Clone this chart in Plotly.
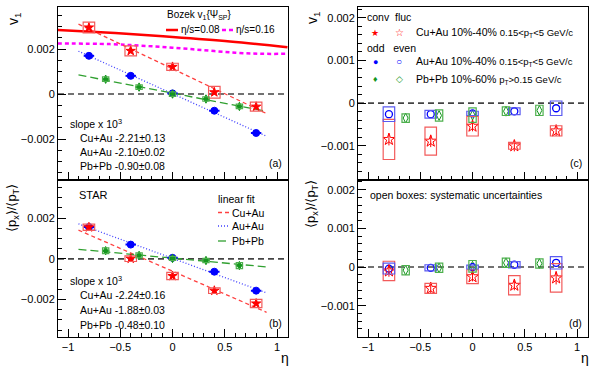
import numpy as np
import plotly.graph_objects as go

W, H = 600, 376
FONT = "Liberation Sans, Arial, sans-serif"

# ---------------- data ----------------
eta_cuau = [-0.8, -0.4, 0.0, 0.4, 0.8]
eta_auau = [-0.8, -0.4, 0.0, 0.4, 0.8]
eta_pbpb = [-0.64, -0.32, 0.0, 0.32, 0.64]

# panel (a): v1 conventional (Cu+Au) / odd (Au+Au, Pb+Pb)
v1_cuau_conv = [0.00296, 0.00192, 0.00121, 0.00008, -0.00056]
v1_cuau_conv_stat = [0.00012, 0.00010, 0.00008, 0.00012, 0.00010]
v1_cuau_conv_sys = [0.00024, 0.00022, 0.00016, 0.00026, 0.00020]
v1_auau_odd = [0.00170, 0.00081, 0.00003, -0.00074, -0.00173]
v1_auau_odd_sys = [0.00003, 0.00003, 0.00003, 0.00003, 0.00003]
v1_pbpb_odd = [0.00066, 0.00031, 0.00000, -0.00022, -0.00055]
v1_pbpb_odd_stat = [0.00008, 0.00008, 0.00008, 0.00008, 0.00008]
v1_pbpb_odd_sys = [0.00010, 0.00010, 0.00010, 0.00010, 0.00010]
slope_a = {"cuau": -0.00221, "auau": -0.00210, "pbpb": -0.00090}

# Bozek hydro curves
eta_bozek_08 = [-1.1, -0.55, 0.0, 0.55, 1.1]
v1_bozek_08 = [0.00285, 0.00271, 0.00254, 0.00234, 0.00208]
eta_bozek_16 = [-1.1, -0.6, -0.3, 0.0, 0.3, 0.6, 0.85, 1.1]
v1_bozek_16 = [0.00225, 0.00222, 0.00215, 0.00206, 0.00195, 0.00184, 0.00179, 0.00179]

# panel (b): <px>/<pT> conventional / odd
px_cuau_conv = [0.00155, 0.00001, -0.00084, -0.00156, -0.00219]
px_cuau_conv_stat = [0.00010, 0.00009, 0.00010, 0.00010, 0.00011]
px_cuau_conv_sys = [0.00015, 0.00014, 0.00018, 0.00014, 0.00020]
px_auau_odd = [0.00156, 0.00070, 0.00005, -0.00063, -0.00156]
px_auau_odd_sys = [0.00003, 0.00003, 0.00003, 0.00003, 0.00003]
px_pbpb_odd = [0.00040, 0.00017, 0.00002, -0.00008, -0.00033]
px_pbpb_odd_stat = [0.00008, 0.00008, 0.00008, 0.00008, 0.00008]
px_pbpb_odd_sys = [0.00014, 0.00012, 0.00010, 0.00010, 0.00015]
slope_b = {"cuau": -0.00224, "auau": -0.00188, "pbpb": -0.00048}

# panel (c): v1 fluctuation (Cu+Au) / even (Au+Au, Pb+Pb)
v1_cuau_fluc = [-0.00085, -0.00089, -0.00054, -0.00100, -0.00065]
v1_cuau_fluc_stat = [0.00014, 0.00014, 0.00012, 0.00013, 0.00012]
v1_cuau_fluc_sys = [0.00047, 0.00033, 0.00023, 0.00008, 0.00012]
v1_auau_even = [-0.00026, -0.00026, -0.00024, -0.00019, -0.00012]
v1_auau_even_sys = [0.00017, 0.00009, 0.00005, 0.00008, 0.00017]
v1_pbpb_even = [-0.00035, -0.00029, -0.00028, -0.00019, -0.00017]
v1_pbpb_even_sys = [0.00010, 0.00013, 0.00017, 0.00010, 0.00012]

# panel (d): <px>/<pT> fluctuation / even
px_cuau_fluc = [-0.00010, -0.00055, -0.00025, -0.00047, -0.00028]
px_cuau_fluc_stat = [0.00015, 0.00012, 0.00012, 0.00013, 0.00017]
px_cuau_fluc_sys = [0.00025, 0.00013, 0.00018, 0.00025, 0.00037]
px_auau_even = [-0.00004, -0.00002, 0.00000, 0.00006, 0.00011]
px_auau_even_sys = [0.00014, 0.00008, 0.00005, 0.00008, 0.00016]
px_pbpb_even = [-0.00008, -0.00002, 0.00002, 0.00011, 0.00009]
px_pbpb_even_sys = [0.00012, 0.00012, 0.00015, 0.00012, 0.00012]

x_tick_vals = [-1, -0.5, 0, 0.5, 1]
x_tick_text = ["\u22121", "\u22120.5", "0", "0.5", "1"]
y_left_tick_vals = [-0.002, 0, 0.002]
y_left_tick_text = ["\u22120.002", "0", "0.002"]
y_right_tick_vals = [-0.001, 0, 0.001, 0.002]
y_right_tick_text = ["\u22120.001", "0", "0.001", "0.002"]

# ---------------- style ----------------
RED = "#ff0000"
RED_BOX = "#f25a5a"
BLUE = "#0000ff"
BLUE_BOX = "#5a5af0"
GREEN = "#14961e"
GREEN_BOX = "#4db04d"
MAGENTA = "#ff00ff"

fig = go.Figure()

def add_points(xa, ya, x, y, color, symbol, size, ey=None, ex=None, lw=1.0):
    fig.add_trace(go.Scatter(
        x=x, y=y, mode="markers", xaxis=xa, yaxis=ya, showlegend=False,
        marker=dict(color=color, symbol=symbol, size=size,
                    line=dict(color=color, width=lw)),
        error_y=dict(type="data", array=ey, visible=ey is not None,
                     color=color, thickness=1, width=0),
        error_x=dict(type="constant", value=ex if ex else 0, visible=ex is not None,
                     color=color, thickness=2, width=0),
    ))

shapes = []

def add_boxes(xa, ya, x, y, s, hw, color, lw=1.2):
    for xi, yi, si in zip(x, y, s):
        shapes.append(dict(type="rect", xref=xa, yref=ya,
                           x0=xi - hw, x1=xi + hw, y0=yi - si, y1=yi + si,
                           line=dict(color=color, width=lw)))

def add_fit(xa, ya, x, y, slope, color, dash, width=1.3):
    intercept = float(np.mean(y)) - slope * float(np.mean(x))
    fx = np.array([-0.9, 0.9])
    fig.add_trace(go.Scatter(x=fx, y=intercept + slope * fx, mode="lines",
                             xaxis=xa, yaxis=ya, showlegend=False,
                             line=dict(color=color, dash=dash, width=width)))

def zero_line(xa, ya):
    shapes.append(dict(type="line", xref=xa + " domain", yref=ya,
                       x0=0, x1=1, y0=0, y1=0, layer="below",
                       line=dict(color="#444444", width=1.6, dash="6px,4px")))

for xa, ya in [("x", "y"), ("x2", "y2"), ("x3", "y3"), ("x4", "y4")]:
    zero_line(xa, ya)

# panel (a)
fig.add_trace(go.Scatter(x=eta_bozek_08, y=v1_bozek_08, mode="lines", xaxis="x", yaxis="y",
                         line=dict(color=RED, width=2.5, shape="spline"), showlegend=False))
fig.add_trace(go.Scatter(x=eta_bozek_16, y=v1_bozek_16, mode="lines", xaxis="x", yaxis="y",
                         line=dict(color=MAGENTA, width=2.5, dash="4px,3px", shape="spline"),
                         showlegend=False))
add_fit("x", "y", eta_cuau, v1_cuau_conv, slope_a["cuau"], "#ff4040", "4px,3px")
add_fit("x", "y", eta_auau, v1_auau_odd, slope_a["auau"], "#4040ff", "1px,2px")
add_fit("x", "y", eta_pbpb, v1_pbpb_odd, slope_a["pbpb"], "#30a030", "8px,4px")
add_boxes("x", "y", eta_cuau, v1_cuau_conv, v1_cuau_conv_sys, 0.055, RED_BOX)
add_boxes("x", "y", eta_pbpb, v1_pbpb_odd, v1_pbpb_odd_sys, 0.03, GREEN_BOX)
add_points("x", "y", eta_auau, v1_auau_odd, BLUE, "circle", 7, ex=0.05)
add_points("x", "y", eta_pbpb, v1_pbpb_odd, GREEN, "diamond-tall", 6, ey=v1_pbpb_odd_stat, ex=0.035)
add_points("x", "y", eta_cuau, v1_cuau_conv, RED, "star", 7, ey=v1_cuau_conv_stat)

# panel (b)
add_fit("x2", "y2", eta_cuau, px_cuau_conv, slope_b["cuau"], "#ff4040", "4px,3px")
add_fit("x2", "y2", eta_auau, px_auau_odd, slope_b["auau"], "#4040ff", "1px,2px")
add_fit("x2", "y2", eta_pbpb, px_pbpb_odd, slope_b["pbpb"], "#30a030", "8px,4px")
add_boxes("x2", "y2", eta_cuau, px_cuau_conv, px_cuau_conv_sys, 0.055, RED_BOX)
add_boxes("x2", "y2", eta_pbpb, px_pbpb_odd, px_pbpb_odd_sys, 0.03, GREEN_BOX)
add_points("x2", "y2", eta_auau, px_auau_odd, BLUE, "circle", 7, ex=0.05)
add_points("x2", "y2", eta_pbpb, px_pbpb_odd, GREEN, "diamond-tall", 6, ey=px_pbpb_odd_stat, ex=0.035)
add_points("x2", "y2", eta_cuau, px_cuau_conv, RED, "star", 7, ey=px_cuau_conv_stat)

# panel (c)
add_boxes("x3", "y3", eta_cuau, v1_cuau_fluc, v1_cuau_fluc_sys, 0.055, RED_BOX)
add_boxes("x3", "y3", eta_auau, v1_auau_even, v1_auau_even_sys, 0.055, BLUE_BOX)
add_boxes("x3", "y3", eta_pbpb, v1_pbpb_even, v1_pbpb_even_sys, 0.035, GREEN_BOX)
add_points("x3", "y3", eta_pbpb, v1_pbpb_even, GREEN, "diamond-tall-open", 7)
add_points("x3", "y3", eta_auau, v1_auau_even, BLUE, "circle-open", 7, lw=1.3)
add_points("x3", "y3", eta_cuau, v1_cuau_fluc, RED, "star-open", 9, ey=v1_cuau_fluc_stat)

# panel (d)
add_boxes("x4", "y4", eta_cuau, px_cuau_fluc, px_cuau_fluc_sys, 0.055, RED_BOX)
add_boxes("x4", "y4", eta_auau, px_auau_even, px_auau_even_sys, 0.055, BLUE_BOX)
add_boxes("x4", "y4", eta_pbpb, px_pbpb_even, px_pbpb_even_sys, 0.035, GREEN_BOX)
add_points("x4", "y4", eta_pbpb, px_pbpb_even, GREEN, "diamond-tall-open", 7)
add_points("x4", "y4", eta_auau, px_auau_even, BLUE, "circle-open", 7, lw=1.3)
add_points("x4", "y4", eta_cuau, px_cuau_fluc, RED, "star-open", 9, ey=px_cuau_fluc_stat)

# ---------------- axes ----------------
LX = [58 / W, 288 / W]
RX = [358 / W, 588 / W]
TY = [1 - 180 / H, 1 - 7 / H]
BY = [1 - 336.7 / H, 1 - 180 / H]
XR = [-1.096, 1.105]
YL = [-0.00382, 0.00387]
YR = [-0.0018, 0.00225]

def xax(domain, anchor, labels):
    return dict(domain=domain, anchor=anchor, range=XR, showline=True, mirror=True,
                linecolor="black", linewidth=1, ticks="inside", ticklen=8, tickcolor="black",
                tickmode="array", tickvals=x_tick_vals, ticktext=x_tick_text,
                showticklabels=labels, showgrid=False, zeroline=False,
                tickfont=dict(size=11, family=FONT, color="black"),
                minor=dict(tickmode="linear", tick0=0, dtick=0.1, ticks="inside",
                           ticklen=4, tickcolor="black", showgrid=False))

def yax(domain, anchor, rng, tv, tt, minor_dt):
    return dict(domain=domain, anchor=anchor, range=rng, showline=True, mirror=True,
                linecolor="black", linewidth=1, ticks="inside", ticklen=8, tickcolor="black",
                tickmode="array", tickvals=tv, ticktext=tt, showgrid=False, zeroline=False,
                tickfont=dict(size=11, family=FONT, color="black"),
                minor=dict(tickmode="linear", tick0=0, dtick=minor_dt, ticks="inside",
                           ticklen=4, tickcolor="black", showgrid=False))

# ---------------- annotations ----------------
def txt(x, y, s, size=10.5, xanchor="left", yanchor="middle", angle=0, color="black"):
    return dict(x=x / W, y=1 - y / H, xref="paper", yref="paper", text=s, showarrow=False,
                xanchor=xanchor, yanchor=yanchor, textangle=angle,
                font=dict(size=size, family=FONT, color=color), borderpad=0)

ann = []
# axis titles
ann.append(txt(14, 19, "v<sub>1</sub>", 14, "center", "middle", -90))
ann.append(txt(313, 18, "v<sub>1</sub>", 14, "center", "middle", -90))
ann.append(txt(12, 208, "\u27e8p<sub>x</sub>\u27e9/\u27e8p<sub>T</sub>\u27e9", 13, "center", "middle", -90))
ann.append(txt(312, 204, "\u27e8p<sub>x</sub>\u27e9/\u27e8p<sub>T</sub>\u27e9", 13, "center", "middle", -90))
ann.append(txt(285, 358, "\u03b7", 14, "center", "middle"))
ann.append(txt(585, 358, "\u03b7", 14, "center", "middle"))

# panel (a)
ann.append(txt(166, 15.5, "Bozek v<sub>1</sub>{\u03a8<sub>SP</sub>}", 10))
ann.append(txt(180, 30, "\u03b7/s=0.08", 10))
ann.append(txt(235, 30, "\u03b7/s=0.16", 10))
ann.append(txt(69, 124, "slope x 10<sup>3</sup>"))
ann.append(txt(79, 137.5, "Cu+Au -2.21\u00b10.13"))
ann.append(txt(79, 152, "Au+Au -2.10\u00b10.02"))
ann.append(txt(79, 166, "Pb+Pb -0.90\u00b10.08"))
ann.append(txt(283, 163, "(a)", 10.5, "right"))

# panel (b)
ann.append(txt(78, 195, "STAR", 11))
ann.append(txt(217, 198.5, "linear fit"))
ann.append(txt(231, 212.5, "Cu+Au"))
ann.append(txt(231, 226, "Au+Au"))
ann.append(txt(231, 241, "Pb+Pb"))
ann.append(txt(69, 280, "slope x 10<sup>3</sup>"))
ann.append(txt(79, 295, "Cu+Au -2.24\u00b10.16"))
ann.append(txt(79, 310, "Au+Au -1.88\u00b10.03"))
ann.append(txt(79, 325, "Pb+Pb -0.48\u00b10.10"))
ann.append(txt(283, 323, "(b)", 10.5, "right"))

# panel (c) legend
ann.append(txt(366, 17, "conv  fluc"))
ann.append(txt(366, 48, "odd   even"))
ann.append(txt(375, 33, "\u2605", 9, "center", color=RED))
ann.append(txt(399, 33, "\u2606", 10, "center", color=RED))
ann.append(txt(375, 62, "\u25cf", 9, "center", color=BLUE))
ann.append(txt(399, 62, "\u25cb", 10, "center", color=BLUE))
ann.append(txt(375, 79, "\u2666", 9, "center", color=GREEN))
ann.append(txt(399, 79, "\u25c7", 9, "center", color=GREEN))
ann.append(txt(415, 33, "Cu+Au 10%-40% <span style='font-size:9.5px'>0.15&lt;p<sub>T</sub>&lt;5 GeV/c</span>"))
ann.append(txt(415, 62, "Au+Au 10%-40% <span style='font-size:9.5px'>0.15&lt;p<sub>T</sub>&lt;5 GeV/c</span>"))
ann.append(txt(415, 79, "Pb+Pb 10%-60% <span style='font-size:9.5px'>p<sub>T</sub>&gt;0.15 GeV/c</span>"))
ann.append(txt(583, 163, "(c)", 10.5, "right"))

# panel (d)
ann.append(txt(369, 195, "open boxes: systematic uncertainties"))
ann.append(txt(583, 323, "(d)", 10.5, "right"))

# legend line samples
def pline(x0, x1, y, color, dash, width):
    shapes.append(dict(type="line", xref="paper", yref="paper",
                       x0=x0 / W, x1=x1 / W, y0=1 - y / H, y1=1 - y / H,
                       line=dict(color=color, dash=dash, width=width)))

pline(166, 178, 30, RED, "solid", 2.5)
pline(222, 233, 30, MAGENTA, "4px,3px", 2.5)
pline(218, 229, 212.5, "#ff4040", "4px,3px", 1.3)
pline(218, 229, 226, "#4040ff", "1px,2px", 1.3)
pline(218, 229, 241, "#30a030", "8px,4px", 1.3)

fig.update_layout(
    width=W, height=H, autosize=False,
    margin=dict(l=0, r=0, t=0, b=0, pad=0),
    paper_bgcolor="white", plot_bgcolor="white",
    font=dict(family=FONT, size=11, color="black"),
    showlegend=False, hovermode=False,
    xaxis=xax(LX, "y", False), yaxis=yax(TY, "x", YL, y_left_tick_vals, y_left_tick_text, 0.0005),
    xaxis2=xax(LX, "y2", True), yaxis2=yax(BY, "x2", YL, y_left_tick_vals, y_left_tick_text, 0.0005),
    xaxis3=xax(RX, "y3", False), yaxis3=yax(TY, "x3", YR, y_right_tick_vals, y_right_tick_text, 0.0002),
    xaxis4=xax(RX, "y4", True), yaxis4=yax(BY, "x4", YR, y_right_tick_vals, y_right_tick_text, 0.0002),
    annotations=ann, shapes=shapes,
)

fig.write_html("out.html", config={"displayModeBar": False},
               post_script="document.body.style.margin='0';document.body.style.overflow='hidden';")
